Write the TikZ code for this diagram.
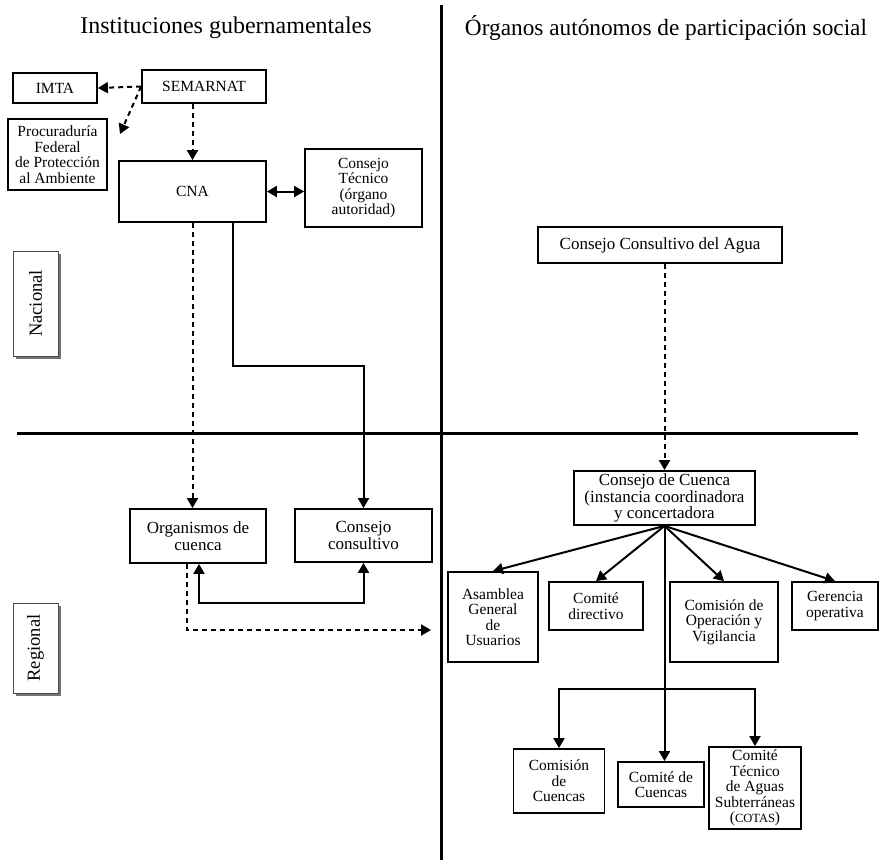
\documentclass[tikz,border=0pt]{standalone}
\usepackage{fontspec}
\setmainfont{Liberation Serif}
\usetikzlibrary{arrows.meta,shadows}

\begin{document}
\begin{tikzpicture}[
	x=1pt, y=-1pt,
	>={Triangle[length=10pt,width=11pt]},
	box/.style={draw, line width=1.8pt, align=center, inner sep=1pt, font=\fontsize{15.5}{15.5}\selectfont},
	bigbox/.style={box, font=\fontsize{17}{16.5}\selectfont},
	level/.style={draw=black!70, line width=1pt, fill=white, rotate=90, font=\fontsize{18.5}{18.5}\selectfont,
		drop shadow={shadow xshift=3pt, shadow yshift=-3pt, fill=black!55, opacity=1}},
	title/.style={font=\fontsize{24}{24}\selectfont},
	edge/.style={->, line width=2pt, line cap=rect},
	twoedge/.style={<->, line width=2pt},
	dashedge/.style={->, line width=2pt, dash pattern=on 5pt off 4pt},
	axis/.style={line width=3pt}
]
\useasboundingbox (0,0) rectangle (881,865);

% Titles and quadrants
\node[title] (gob) at (226,28) {Instituciones gubernamentales};
\node[title, font=\fontsize{23.3}{24}\selectfont] (soc) at (666,28) {Órganos autónomos de participación social};
\draw[axis] (441,5) -- (441,860);
\draw[axis] (17,433) -- (858,433);

% Levels
\node[level, minimum width=105pt, minimum height=45pt] (nacional) at (35.5,303.5) {Nacional};
\node[level, minimum width=90pt, minimum height=45pt] (regional) at (35.5,648) {Regional};

% Left side nodes
\node[box, minimum width=84pt, minimum height=30pt] (imta) at (55,88) {IMTA};
\node[box, minimum width=124pt, minimum height=33pt] (semarnat) at (204,86.5) {SEMARNAT};
\node[box, minimum width=99pt, minimum height=71pt] (profepa) at (57.5,154.5) {Procuraduría\\Federal\\de Protección\\al Ambiente};
\node[box, minimum width=147pt, minimum height=61pt] (cna) at (192.5,191.5) {CNA};
\node[box, minimum width=117pt, minimum height=78pt] (tecnico) at (363.5,188) {Consejo\\Técnico\\(órgano\\autoridad)};
\node[bigbox, minimum width=136pt, minimum height=54pt] (organismos) at (198,536) {Organismos de\\cuenca};
\node[bigbox, minimum width=137pt, minimum height=53pt] (consultivo) at (363.5,535.5) {Consejo\\consultivo};
\coordinate (profepatip) at (120,134);
\coordinate (regionend) at (431,630);

% Right side nodes
\node[bigbox, minimum width=244pt, minimum height=36pt] (agua) at (660,245) {Consejo Consultivo del Agua};
\node[bigbox, minimum width=181pt, minimum height=54pt] (cuenca) at (664.5,498) {Consejo de Cuenca\\(instancia coordinadora\\y concertadora};
\node[box, minimum width=90pt, minimum height=90pt] (asamblea) at (493,617) {Asamblea\\General\\de\\Usuarios};
\node[box, minimum width=94pt, minimum height=48pt] (directivo) at (596,606) {Comité\\directivo};
\node[box, minimum width=108pt, minimum height=80pt] (operacion) at (724,622) {Comisión de\\Operación y\\Vigilancia};
\node[box, minimum width=86pt, minimum height=48pt] (gerencia) at (835,606) {Gerencia\\operativa};
\node[box, minimum width=91pt, minimum height=64pt] (comision) at (559,781) {Comisión\\de\\Cuencas};
\node[box, minimum width=86pt, minimum height=45pt] (comite) at (661,784.5) {Comité de\\Cuencas};
\node[box, minimum width=92pt, minimum height=82pt] (cotas) at (755,788) {Comité\\Técnico\\de Aguas\\Subterráneas\\({\fontsize{12.5}{12.5}\selectfont COTAS})};

% Edges
\draw[dashedge] (semarnat.west) -- (imta.east);
\draw[dashedge] (semarnat.west) -- (profepatip);
\draw[dashedge] (cna.north |- semarnat.south) -- (cna.north);
\draw[twoedge] (cna.east) -- (cna.east -| tecnico.west);
\draw[dashedge] (cna.south) -- (cna.south |- organismos.north);
\draw[edge] ([xshift=40pt]cna.south) -- ++(0,143) -| (consultivo.north);
\draw[twoedge] ([xshift=1pt]organismos.south) -- ++(0,39) -| (consultivo.south);
\draw[dashedge] ([xshift=-11pt]organismos.south) |- (regionend);
\draw[dashedge] (cuenca.north |- agua.south) -- (cuenca.north);
\foreach \target in {asamblea, directivo, operacion, gerencia}
	\draw[edge] (cuenca.south) -- (\target.north);
\draw[edge] (cuenca.south) -- (cuenca.south |- comite.north);
\draw[edge] (cuenca.south) ++(0,163) -| (comision.north);
\draw[edge] (cuenca.south) ++(0,163) -| (cotas.north);

\end{tikzpicture}
\end{document}
